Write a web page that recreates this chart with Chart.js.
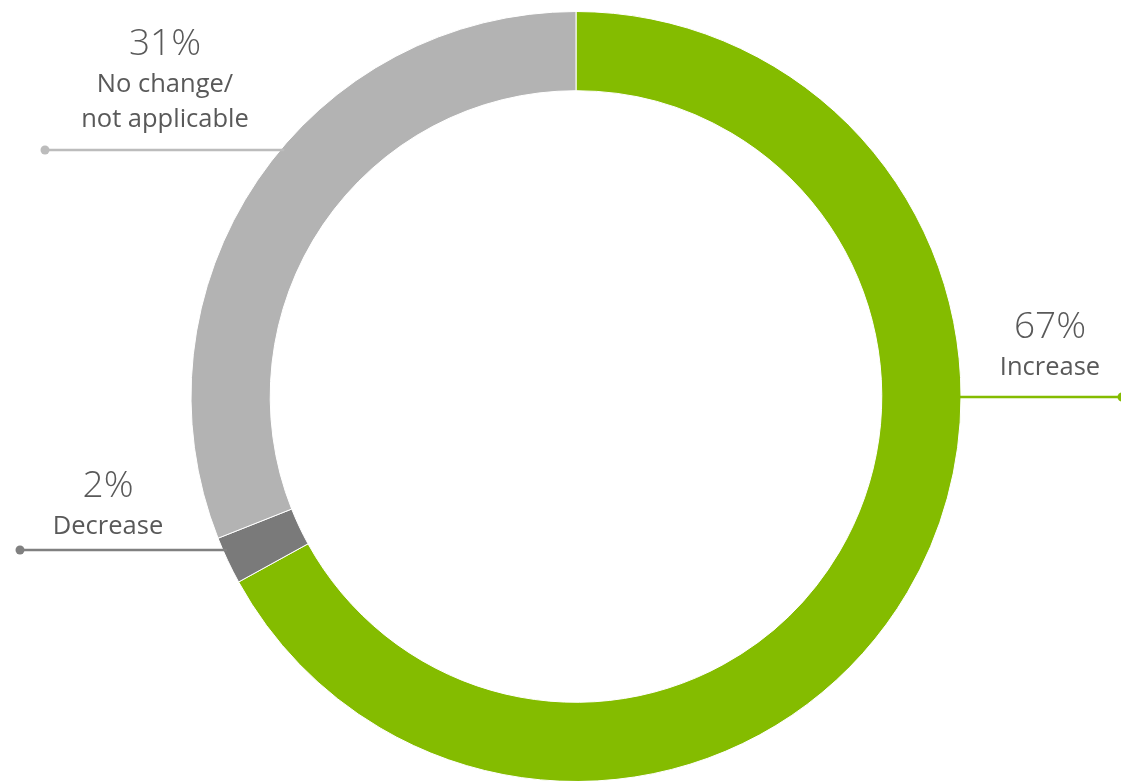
<!DOCTYPE html>
<html>
<head>
<meta charset="utf-8">
<script src="https://cdn.jsdelivr.net/npm/chart.js@4/dist/chart.umd.min.js"></script>
<style>
  html, body { margin: 0; padding: 0; background: #ffffff; }
  #wrap { width: 1121px; height: 781px; position: relative; }
</style>
</head>
<body>
<div id="wrap"><canvas id="chart"></canvas></div>
<script>
// Survey response shares, clockwise from 12 o'clock
const categories = ['Increase', 'Decrease', 'No change/\nnot applicable'];
const shares = [67, 2, 31];
const sliceColors = ['#84bc00', '#7a7a7a', '#b3b3b3'];
const leaderColors = ['#84bc00', '#808080', '#bcbcbc'];

// Callout placement for each slice: text centre, baseline of the percentage, leader line row and side
const callouts = [
  { x: 1050, y: 338, lineY: 397, side: 'right' },
  { x: 108,  y: 497, lineY: 550, side: 'left', lineStart: 20 },
  { x: 165,  y: 55,  lineY: 150, side: 'left', lineStart: 45 }
];

const FONT = '"Open Sans", "DejaVu Sans", sans-serif';
const TEXT_COLOR = '#595959';

const calloutPlugin = {
  id: 'callouts',
  afterDatasetsDraw(chart) {
    const ctx = chart.ctx;
    const arc = chart.getDatasetMeta(0).data[0];
    const cx = arc.x, cy = arc.y, r = arc.outerRadius;
    ctx.save();
    callouts.forEach((c, i) => {
      const dy = c.lineY - cy;
      const half = Math.sqrt(Math.max(r * r - dy * dy, 0));
      ctx.strokeStyle = leaderColors[i];
      ctx.fillStyle = leaderColors[i];
      ctx.lineWidth = 2.5;
      ctx.beginPath();
      if (c.side === 'right') {
        const x0 = cx + half - 2;
        const x1 = chart.width;
        ctx.moveTo(x0, c.lineY);
        ctx.lineTo(x1, c.lineY);
        ctx.stroke();
        ctx.beginPath();
        ctx.arc(x1 + 1, c.lineY, 4.5, 0, Math.PI * 2);
        ctx.fill();
      } else {
        const x1 = cx - half + 4;
        ctx.moveTo(c.lineStart, c.lineY);
        ctx.lineTo(x1, c.lineY);
        ctx.stroke();
        ctx.beginPath();
        ctx.arc(c.lineStart, c.lineY, 4.5, 0, Math.PI * 2);
        ctx.fill();
      }

      // percentage and category text
      ctx.fillStyle = TEXT_COLOR;
      ctx.textAlign = 'center';
      ctx.textBaseline = 'alphabetic';
      ctx.font = '300 37px ' + FONT;
      ctx.fillText(shares[i] + '%', c.x, c.y);
      ctx.font = '400 25.5px ' + FONT;
      categories[i].split('\n').forEach((line, k) => {
        ctx.fillText(line, c.x, c.y + 37 + k * 35);
      });
    });
    ctx.restore();
  }
};

new Chart(document.getElementById('chart'), {
  type: 'doughnut',
  data: {
    labels: categories,
    datasets: [{
      data: shares,
      backgroundColor: sliceColors,
      borderColor: '#ffffff',
      borderWidth: 1,
      hoverOffset: 0,
      radius: 385,
      cutout: 305
    }]
  },
  options: {
    responsive: true,
    maintainAspectRatio: false,
    animation: false,
    layout: { padding: { left: 31, top: 12, right: 0, bottom: 0 } },
    plugins: {
      legend: { display: false },
      tooltip: { enabled: false }
    }
  },
  plugins: [calloutPlugin]
});
</script>
</body>
</html>
